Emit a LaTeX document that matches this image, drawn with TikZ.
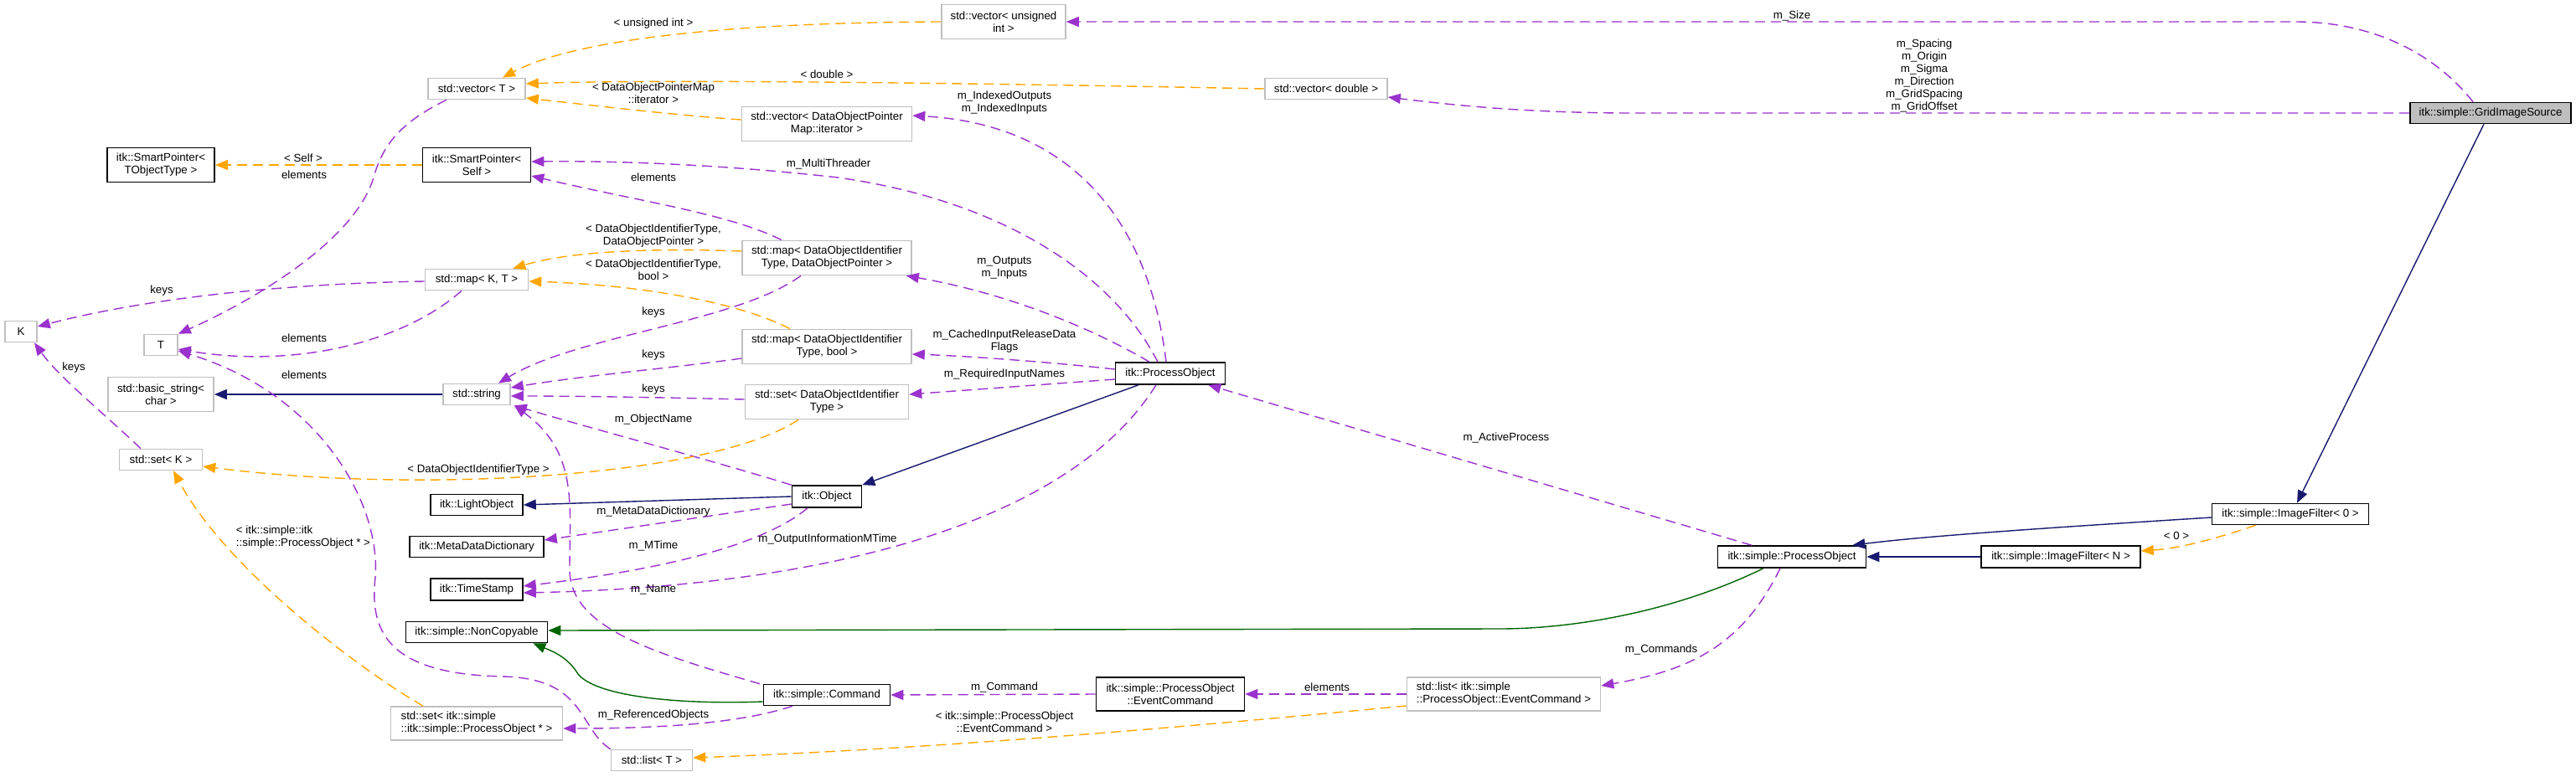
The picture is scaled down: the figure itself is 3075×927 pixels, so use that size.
\documentclass[tikz,border=0pt]{standalone}
\usepackage{fontspec}
\setmainfont{Liberation Sans}
\usetikzlibrary{arrows.meta,calc}
\definecolor{pu}{HTML}{9A32CD}
\definecolor{orn}{HTML}{FFA500}
\definecolor{nav}{HTML}{191970}
\definecolor{grn}{HTML}{006400}
\definecolor{bgr}{HTML}{BFBFBF}
\newcommand{\dfnt}{\fontsize{13.3}{15}\selectfont}
\begin{document}
\begin{tikzpicture}[x=1pt,y=-1pt,
 box/.style={draw=black, line width=1.6pt, fill=white, inner sep=0pt, align=center, font=\dfnt},
 gbox/.style={box, draw=bgr},
 lbl/.style={font=\dfnt, inner sep=0pt, align=center},
 tip/.style={-{Triangle[length=15pt,width=12pt]}},
 use/.style={tip, draw=pu, line width=1.4pt, dash pattern=on 12pt off 7pt},
 tmpl/.style={use, draw=orn},
 inh/.style={tip, draw=nav, line width=1.4pt},
 pinh/.style={tip, draw=grn, line width=1.4pt},
]
\fill[white] (0,0) rectangle (3075,927);
\useasboundingbox (0,0) rectangle (3075,927);

% nodes
\node[box, fill=bgr, minimum width=192, minimum height=25] (grid) at (2973,135) {itk::simple::GridImageSource};
\node[gbox, minimum width=148, minimum height=41] (vecUI) at (1198,26) {std::vector< unsigned\\int >};
\node[gbox, minimum width=146, minimum height=25] (vecD) at (1583,106) {std::vector< double >};
\node[gbox, minimum width=116, minimum height=25] (vecT) at (569,106) {std::vector< T >};
\node[gbox, minimum width=203, minimum height=41] (vecIt) at (987,148) {std::vector< DataObjectPointer\\Map::iterator >};
\node[box, minimum width=128, minimum height=41] (spT) at (192,197) {itk::SmartPointer<\\TObjectType >};
\node[box, minimum width=129, minimum height=41] (spS) at (569,197) {itk::SmartPointer<\\Self >};
\node[gbox, minimum width=202, minimum height=41] (mapDOP) at (987,308) {std::map< DataObjectIdentifier\\Type, DataObjectPointer >};
\node[gbox, minimum width=123, minimum height=25] (mapKT) at (569,334) {std::map< K, T >};
\node[gbox, minimum width=202, minimum height=41] (mapB) at (987,414) {std::map< DataObjectIdentifier\\Type, bool >};
\node[gbox, minimum width=38, minimum height=25] (nK) at (25,396) {K};
\node[gbox, minimum width=40, minimum height=25] (nT) at (192,412) {T};
\node[box, minimum width=131, minimum height=26] (pObj) at (1397,446) {itk::ProcessObject};
\node[gbox, minimum width=126, minimum height=41] (bstr) at (192,471) {std::basic\_string<\\char >};
\node[gbox, minimum width=80, minimum height=25] (str) at (569,471) {std::string};
\node[gbox, minimum width=195, minimum height=41] (setD) at (987,480) {std::set< DataObjectIdentifier\\Type >};
\node[gbox, minimum width=99, minimum height=25] (setK) at (192,549) {std::set< K >};
\node[box, minimum width=83, minimum height=26] (obj) at (987,593) {itk::Object};
\node[box, minimum width=110, minimum height=25] (light) at (569,603) {itk::LightObject};
\node[box, minimum width=160, minimum height=25] (mdd) at (569,653) {itk::MetaDataDictionary};
\node[box, minimum width=110, minimum height=26] (ts) at (569,704) {itk::TimeStamp};
\node[box, minimum width=169, minimum height=25] (nc) at (569,755) {itk::simple::NonCopyable};
\node[box, minimum width=151, minimum height=25] (cmd) at (987,830) {itk::simple::Command};
\node[box, minimum width=177, minimum height=40] (ec) at (1397,829) {itk::simple::ProcessObject\\::EventCommand};
\node[gbox, align=left, minimum width=205, minimum height=40] (setPO) at (569,864) {std::set< itk::simple\\::itk::simple::ProcessObject * >};
\node[gbox, minimum width=97, minimum height=25] (listT) at (778,908) {std::list< T >};
\node[gbox, align=left, minimum width=231, minimum height=40] (listEC) at (1795,829) {std::list< itk::simple\\::ProcessObject::EventCommand >};
\node[box, minimum width=177, minimum height=26] (spo) at (2139,665) {itk::simple::ProcessObject};
\node[box, minimum width=190, minimum height=26] (ifN) at (2460,665) {itk::simple::ImageFilter< N >};
\node[box, minimum width=187, minimum height=25] (if0) at (2734,614) {itk::simple::ImageFilter< 0 >};

% edges
\draw[use] ($(grid.north)+(-21,0)$) .. controls (2905,62) and (2830,26) .. (2740,26) -- (vecUI.east);
\draw[use] (grid.west) -- (1950,135) .. controls (1820,135) and (1730,125) .. ($(vecD.east)+(0,10)$);
\draw[tmpl] (vecUI.west) .. controls (850,27) and (680,50) .. ($(vecT.north)+(31,0)$);
\draw[tmpl] (vecD.west) .. controls (1200,100) and (800,94) .. ($(vecT.east)+(0,-6)$);
\draw[tmpl] ($(vecIt.west)+(0,-5)$) .. controls (800,137) and (700,125) .. ($(vecT.east)+(0,11)$);
\draw[use] ($(pObj.north)+(-5,0)$) .. controls (1375,290) and (1300,150) .. ($(vecIt.east)+(0,-10)$);
\draw[tmpl] (spS.west) -- (spT.east);
\draw[use] ($(vecT.south)+(-36,0)$) .. controls (470,150) and (455,180) .. (445,215) .. controls (420,290) and (300,360) .. (nT.north east);
\draw[use] ($(pObj.north)+(-15,0)$) .. controls (1330,330) and (1200,240) .. (1000,212) .. controls (850,195) and (720,192) .. ($(spS.east)+(0,-4)$);
\draw[use] ($(mapDOP.north)+(-54,0)$) .. controls (870,255) and (760,240) .. ($(spS.east)+(0,13)$);
\draw[tmpl] ($(mapDOP.west)+(0,-8)$) .. controls (780,296) and (680,300) .. ($(mapKT.north east)+(-19,0)$);
\draw[tmpl] ($(mapB.north)+(-44,0)$) .. controls (880,360) and (760,340) .. ($(mapKT.east)+(0,2)$);
\draw[use] ($(mapKT.west)+(0,2)$) .. controls (380,338) and (200,350) .. ($(nK.east)+(0,-6)$);
\draw[use] ($(mapKT.south)+(-18,0)$) .. controls (480,410) and (350,440) .. ($(nT.east)+(0,5)$);
\draw[use] ($(mapDOP.south)+(-31,0)$) .. controls (880,385) and (690,400) .. ($(str.north)+(26,0)$);
\draw[use] ($(mapB.west)+(0,14)$) .. controls (800,440) and (700,448) .. ($(str.east)+(0,-8)$);
\draw[use] ($(setD.west)+(0,-3)$) .. controls (800,475) and (700,473) .. ($(str.east)+(0,2)$);
\draw[inh] (str.west) -- (bstr.east);
\draw[use] (obj.north west) .. controls (850,550) and (700,510) .. ($(str.south east)+(4,0)$);
\draw[use] ($(pObj.north)+(-25,0)$) .. controls (1300,390) and (1200,350) .. ($(mapDOP.south east)+(-7,0)$);
\draw[use] ($(pObj.west)+(0,-5)$) .. controls (1250,432) and (1150,425) .. ($(mapB.east)+(0,9)$);
\draw[use] ($(pObj.west)+(0,7)$) -- ($(setD.east)+(0,-9)$);
\draw[tmpl] ($(setD.south)+(-34,0)$) .. controls (850,570) and (500,590) .. ($(setK.east)+(0,8)$);
\draw[use] ($(setK.north)+(-24,0)$) .. controls (120,490) and (70,450) .. ($(nK.south)+(16,0)$);
\draw[inh] (obj.west) -- (light.east);
\draw[inh] ($(pObj.south)+(-38,0)$) -- (obj.north east);
\draw[use] ($(obj.west)+(0,9)$) -- ($(mdd.east)+(0,-8)$);
\draw[use] ($(obj.south)+(-23,0)$) .. controls (900,660) and (750,685) .. ($(ts.east)+(0,-4)$);
\draw[use] ($(pObj.south)+(-17,0)$) .. controls (1280,620) and (1000,700) .. ($(ts.east)+(0,4)$);
\draw[use] ($(cmd.north)+(-80,0)$) .. controls (780,780) and (680,750) .. (680,680) .. controls (680,600) and (690,540) .. ($(str.south east)+(4,0)$);
\draw[use] (listT.north west) .. controls (690,870) and (700,810) .. (600,808) .. controls (470,805) and (440,760) .. (448,690) .. controls (455,600) and (380,470) .. ($(nT.east)+(0,7)$);
\draw[pinh] ($(cmd.west)+(0,8)$) .. controls (800,842) and (710,830) .. (690,805) .. controls (678,785) and (660,778) .. ($(nc.south east)+(-18,0)$);
\draw[pinh] ($(spo.south)+(-34,0)$) .. controls (2000,730) and (1880,751) .. (1790,751) -- ($(nc.east)+(0,-2)$);
\draw[use] ($(cmd.south)+(-41,0)$) .. controls (880,865) and (780,870) .. ($(setPO.east)+(0,6)$);
\draw[tmpl] ($(setPO.north)+(-64,0)$) .. controls (430,800) and (270,680) .. ($(setK.south)+(15,0)$);
\draw[use] (ec.west) -- (cmd.east);
\draw[use] (listEC.west) -- (ec.east);
\draw[tmpl] ($(listEC.west)+(0,14)$) .. controls (1400,870) and (1100,895) .. ($(listT.east)+(0,-3)$);
\draw[use] ($(spo.north)+(-48,0)$) -- ($(pObj.south east)+(-21,0)$);
\draw[use] ($(spo.south)+(-14,0)$) .. controls (2080,770) and (2020,800) .. ($(listEC.east)+(0,-10)$);
\draw[inh] ($(if0.west)+(0,4)$) .. controls (2450,630) and (2300,640) .. ($(spo.north east)+(-17,0)$);
\draw[inh] (ifN.west) -- (spo.east);
\draw[tmpl] ($(if0.south)+(-41,0)$) .. controls (2640,645) and (2600,655) .. ($(ifN.east)+(0,-7)$);
\draw[inh] ($(grid.south)+(-8,0)$) -- ($(if0.north)+(8,0)$);

% labels
\node[lbl] (l1) at (2139,19) {m\_Size};
\node[lbl] (l2) at (2297,90) {m\_Spacing\\m\_Origin\\m\_Sigma\\m\_Direction\\m\_GridSpacing\\m\_GridOffset};
\node[lbl] (l3) at (780,28) {< unsigned int >};
\node[lbl] (l4) at (987,89) {< double >};
\node[lbl] (l5) at (780,111) {< DataObjectPointerMap\\::iterator >};
\node[lbl] (l6) at (1199,123) {m\_IndexedOutputs\\m\_IndexedInputs};
\node[lbl] (l7) at (362,189) {< Self >};
\node[lbl] (l8) at (363,209) {elements};
\node[lbl] (l9) at (989,196) {m\_MultiThreader};
\node[lbl] (l10) at (780,212) {elements};
\node[lbl] (l11) at (780,282) {< DataObjectIdentifierType,\\DataObjectPointer >};
\node[lbl] (l12) at (780,322) {< DataObjectIdentifierType,\\bool >};
\node[lbl] (l13) at (193,347) {keys};
\node[lbl] (l14) at (363,404) {elements};
\node[lbl] (l15) at (780,373) {keys};
\node[lbl] (l16) at (780,424) {keys};
\node[lbl] (l17) at (780,465) {keys};
\node[lbl] (l18) at (780,501) {m\_ObjectName};
\node[lbl] (l19) at (1199,320) {m\_Outputs\\m\_Inputs};
\node[lbl] (l20) at (1199,408) {m\_CachedInputReleaseData\\Flags};
\node[lbl] (l21) at (1199,447) {m\_RequiredInputNames};
\node[lbl] (l22) at (571,561) {< DataObjectIdentifierType >};
\node[lbl] (l23) at (88,439) {keys};
\node[lbl] (l24) at (780,611) {m\_MetaDataDictionary};
\node[lbl] (l25) at (780,652) {m\_MTime};
\node[lbl] (l26) at (988,644) {m\_OutputInformationMTime};
\node[lbl] (l27) at (780,704) {m\_Name};
\node[lbl] (l28) at (363,448) {elements};
\node[lbl] (l29) at (780,854) {m\_ReferencedObjects};
\node[lbl, align=left] (l30) at (362,642) {< itk::simple::itk\\::simple::ProcessObject * >};
\node[lbl] (l31) at (1199,821) {m\_Command};
\node[lbl] (l32) at (1584,821) {elements};
\node[lbl] (l33) at (1199,862) {< itk::simple::ProcessObject\\::EventCommand >};
\node[lbl] (l34) at (1798,523) {m\_ActiveProcess};
\node[lbl] (l35) at (1983,776) {m\_Commands};
\node[lbl] (l36) at (2598,640) {< 0 >};
\end{tikzpicture}
\end{document}
